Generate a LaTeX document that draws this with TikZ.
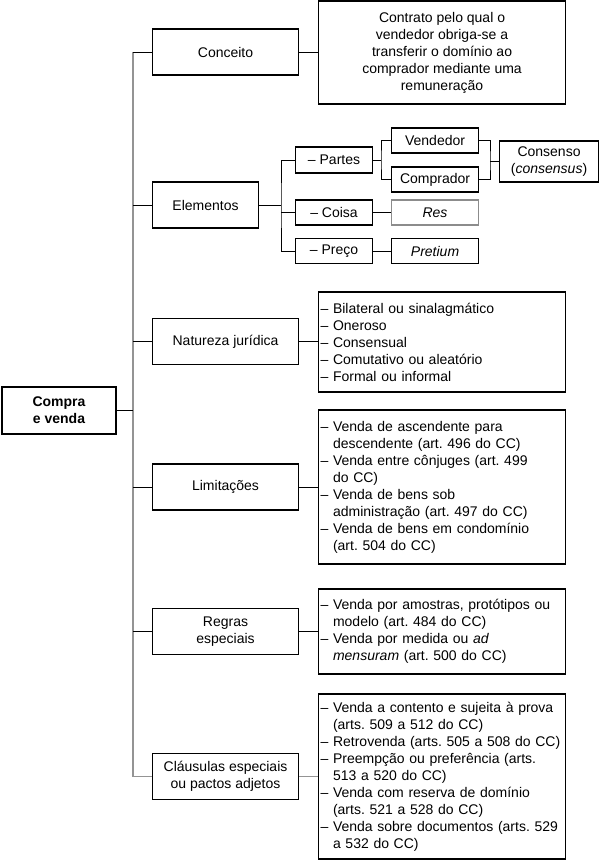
\documentclass[tikz,border=0pt]{standalone}
\usepackage{fontspec}
\setmainfont{Liberation Sans}
\frenchspacing
\newcommand{\dashitem}{\makebox[12.5pt][l]{–}}
\newcommand{\contline}{\hspace*{12.5pt}}
\begin{document}
\begin{tikzpicture}[x=1pt,y=-1pt,
  every node/.style={font=\fontsize{14}{17}\selectfont},
  box/.style={draw, line width=1.1pt, inner sep=2pt},
  lvl/.style={box, anchor=west, minimum width=146pt, minimum height=46pt, align=center},
  lst/.style={box, anchor=west, text width=243pt, inner xsep=2pt, align=left},
  sbox/.style={box, anchor=west, minimum width=87pt, minimum height=25pt},
  conn/.style={line width=1pt},
  grayc/.style={line width=1.2pt, draw=black!42}]
\useasboundingbox (0,0) rectangle (602,860);

% root
\node[box, minimum width=114pt, minimum height=47pt, align=center,
      font=\fontsize{14}{17}\selectfont\bfseries] (root) at (59,410.5) {Compra\\e venda};

% level 1
\node[lvl] (conceito) at (152,52) {Conceito};
\node[lvl, minimum width=106pt] (elementos) at (152,205) {Elementos};
\node[lvl] (natureza) at (152,341.5) {Natureza jurídica};
\node[lvl] (limit) at (152,487) {Limitações};
\node[lvl] (regras) at (152,631.5) {Regras\\especiais};
\node[lvl] (claus) at (152,776.5) {Cláusulas especiais\\ou pactos adjetos};

% right-hand boxes
\node[box, anchor=west, minimum width=247pt, minimum height=103pt, align=center] (desc) at (318,52.5)
  {Contrato pelo qual o\\vendedor obriga-se a\\transferir o domínio ao\\comprador mediante uma\\remuneração};
\node[lst, minimum height=100pt] (natlist) at (318,342)
  {\dashitem Bilateral ou sinalagmático\\
   \dashitem Oneroso\\
   \dashitem Consensual\\
   \dashitem Comutativo ou aleatório\\
   \dashitem Formal ou informal};
\node[lst, minimum height=154pt] (limlist) at (318,487)
  {\dashitem Venda de ascendente para\\
   \contline descendente (art. 496 do CC)\\
   \dashitem Venda entre cônjuges (art. 499\\
   \contline do CC)\\
   \dashitem Venda de bens sob\\
   \contline administração (art. 497 do CC)\\
   \dashitem Venda de bens em condomínio\\
   \contline (art. 504 do CC)};
\node[lst, minimum height=85pt] (reglist) at (318,631.5)
  {\dashitem Venda por amostras, protótipos ou\\
   \contline modelo (art. 484 do CC)\\
   \dashitem Venda por medida ou \textit{ad}\\
   \contline \textit{mensuram} (art. 500 do CC)};
\node[lst, minimum height=165pt] (clalist) at (318,776.5)
  {\dashitem Venda a contento e sujeita à prova\\
   \contline (arts. 509 a 512 do CC)\\
   \dashitem Retrovenda (arts. 505 a 508 do CC)\\
   \dashitem Preempção ou preferência (arts.\\
   \contline 513 a 520 do CC)\\
   \dashitem Venda com reserva de domínio\\
   \contline (arts. 521 a 528 do CC)\\
   \dashitem Venda sobre documentos (arts. 529\\
   \contline a 532 do CC)};

% Elementos subtree
\node[sbox, minimum width=77pt, minimum height=26pt] (partes) at (295,160) {– Partes};
\node[sbox, minimum width=77pt] (coisa) at (295,212.5) {– Coisa};
\node[sbox, minimum width=77pt] (preco) at (295,251) {– Preço};
\node[sbox] (vend) at (391,140.5) {Vendedor};
\node[sbox] (comp) at (391,179.5) {Comprador};
\node[sbox, draw=black!45] (res) at (391,212.5) {\textit{Res}};
\node[sbox] (pret) at (391,251) {\textit{Pretium}};
\node[box, anchor=west, minimum width=99pt, minimum height=41pt, align=center] (cons) at (499,161.5)
  {Consenso\\(\textit{consensus})};

% coordinates
\coordinate (ttop) at (133,52);
\coordinate (tbot) at (133,776.5);
\coordinate (ef) at (281,205);
\coordinate (pf) at (381,160);
\coordinate (cf) at (490,161.5);

% trunk
\draw[grayc] (ttop) -- (tbot);
\draw[conn] (root.east) -- (root.east -| ttop);
\foreach \n in {conceito,elementos,natureza,limit,regras}
  \draw[conn] (\n.west) -- (\n.west -| ttop);
\draw[grayc] (claus.west) -- (tbot);

% level1 to right boxes
\draw[conn] (conceito.east) -- (conceito.east -| desc.west);
\draw[conn] (natureza.east) -- (natureza.east -| natlist.west);
\draw[conn] (limit.east) -- (limit.east -| limlist.west);
\draw[conn] (regras.east) -- (regras.east -| reglist.west);
\draw[grayc] (claus.east) -- (claus.east -| clalist.west);

% Elementos subtree connectors
\draw[conn] (elementos.east) -- (ef);
\draw[conn] (partes.west) -| (ef) |- (preco.west);
\draw[conn] (coisa.west) -- (coisa.west -| ef);
\draw[conn] (partes.east) -- (pf);
\draw[conn] (vend.west) -| (pf) |- (comp.west);
\draw[conn] (vend.east) -| (cf) |- (comp.east);
\draw[conn] (cf) -- (cons.west);
\draw[conn] (coisa.east) -- (res.west);
\draw[conn] (preco.east) -- (pret.west);
\end{tikzpicture}
\end{document}
